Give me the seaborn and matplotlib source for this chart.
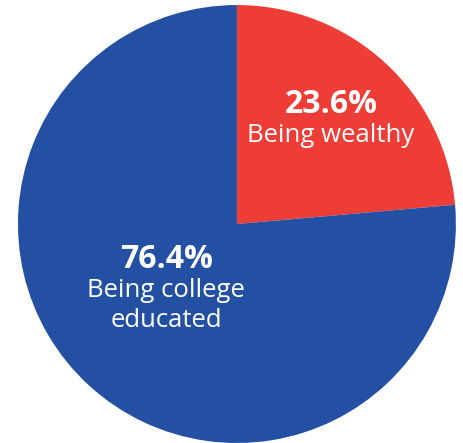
import matplotlib
matplotlib.use("Agg")
import matplotlib.pyplot as plt
import seaborn as sns

# data
labels = [["Being wealthy"], ["Being college", "educated"]]
shares = [23.6, 76.4]
colors = ["#EE3C36", "#2450A4"]

sns.set_theme(style="white")
plt.rcParams["font.family"] = ["Open Sans", "DejaVu Sans"]

fig = plt.figure(figsize=(4.64, 4.43), dpi=100)
ax = fig.add_axes([0, 0, 1, 1])

ax.pie(shares, colors=colors, startangle=90, counterclock=False,
       radius=1.0, center=(0, 0), frame=False,
       wedgeprops={"linewidth": 0})

# label anchors (pie-radius units): x centre, baseline of percent, baselines of name lines
label_x = [0.43, -0.322]
pct_base = [0.5055, -0.202]
name_base = [[0.3758], [-0.332, -0.469]]

for share, lines, x, pb, nbs in zip(shares, labels, label_x, pct_base, name_base):
    ax.text(x, pb, f"{share:.1f}%", color="white", fontsize=23,
            fontweight="bold", ha="center", va="baseline")
    for line, nb in zip(lines, nbs):
        ax.text(x, nb, line, color="white", fontsize=18.5, ha="center",
                va="baseline")

ax.set_xlim(-1.082, 1.037)
ax.set_ylim(-1.0, 1.023)
ax.set_aspect("auto")
ax.axis("off")

fig.savefig("out.png", dpi=100, facecolor="white")
